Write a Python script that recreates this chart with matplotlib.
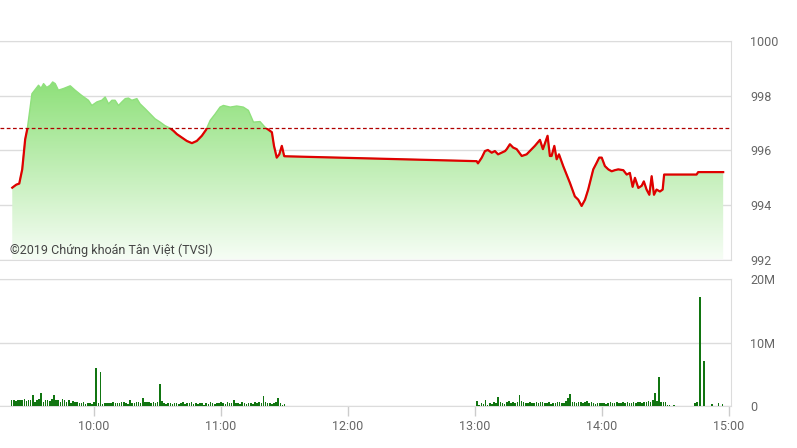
import matplotlib
matplotlib.use('Agg')
import matplotlib.pyplot as plt
import numpy as np
from matplotlib.patches import Rectangle
from matplotlib.colors import LinearSegmentedColormap

plt.rcParams['font.family'] = ['Roboto', 'DejaVu Sans']

# time = minutes after 09:00
am_t = [21.3, 23.2, 24.6, 26.0, 27.4, 28.4, 29.8, 30.6, 33.7, 34.9,
        36.1, 37.6, 39.2, 40.4, 41.6, 43.1, 45.5, 48.7, 51.0, 54.2,
        57.3, 58.9, 61.3, 63.6, 65.2, 66.8, 68.4, 69.9, 71.5, 73.1,
        74.7, 76.2, 77.8, 80.2, 81.7, 84.1, 86.5, 88.8, 91.2, 93.5,
        95.9, 97.5, 99.1, 101.4, 103.8, 106.2, 108.5, 110.9, 112.9, 114.8,
        117.2, 119.5, 121.1, 124.3, 127.4, 130.5, 132.9, 135.3, 138.4, 140.8,
        142.4, 144.0, 145.0, 146.3, 147.5, 148.7, 149.8, 150.0]
am_p = [994.63, 994.74, 994.78, 995.3, 996.4, 996.78, 997.6, 998.07, 998.38, 998.27,
        998.44, 998.3, 998.38, 998.5, 998.44, 998.2, 998.26, 998.36, 998.2, 998.0,
        997.83, 997.64, 997.77, 997.83, 997.95, 997.7, 997.83, 997.83, 997.64, 997.77,
        997.89, 997.91, 997.83, 997.89, 997.7, 997.52, 997.33, 997.15, 997.03, 996.9,
        996.81, 996.71, 996.59, 996.47, 996.34, 996.26, 996.34, 996.53, 996.75, 997.09,
        997.33, 997.58, 997.64, 997.58, 997.62, 997.58, 997.46, 997.03, 997.05, 996.84,
        996.75, 996.66, 996.16, 995.73, 995.85, 996.16, 995.79, 995.78]
pm_t = [240.0, 240.8, 241.4, 243.2, 244.7, 246.1, 247.9, 249.4, 250.9, 252.6,
        254.2, 255.0, 256.5, 258.0, 259.7, 262.1, 264.4, 266.8, 268.3, 270.7,
        272.1, 274.3, 275.4, 276.2, 277.5, 278.6, 279.7, 281.7, 284.9, 287.2,
        288.8, 290.4, 292.0, 293.5, 295.9, 297.5, 298.7, 299.9, 301.4, 303.0,
        304.6, 306.1, 307.7, 310.1, 311.7, 313.2, 314.5, 315.6, 317.2, 318.8,
        319.8, 321.1, 322.4, 323.5, 324.6, 325.8, 327.4, 328.7, 329.4, 344.7,
        345.5, 357.3]
pm_p = [995.6, 995.6, 995.52, 995.73, 995.97, 996.01, 995.91, 995.97, 995.85, 995.91,
        995.97, 996.04, 996.22, 996.1, 996.04, 995.79, 995.85, 996.04, 996.16, 996.38,
        996.04, 996.53, 995.79, 995.79, 996.16, 995.67, 995.85, 995.42, 994.8, 994.31,
        994.19, 993.96, 994.19, 994.56, 995.3, 995.54, 995.73, 995.73, 995.42, 995.3,
        995.23, 995.27, 995.3, 995.27, 995.11, 995.17, 994.66, 994.99, 994.62, 994.7,
        994.86, 994.56, 994.37, 995.05, 994.37, 994.56, 994.49, 994.56, 995.11, 995.11,
        995.2, 995.2]
ref_price = 996.8

# volume in millions, one bar per minute
vol_am_start = 21
vol_am = [0.9, 1.0, 0.8, 0.9, 1.0, 0.9, 1.1, 0.8, 0.9, 1.0,
          1.8, 0.7, 0.9, 1.1, 2.0, 0.6, 0.9, 1.0, 0.8, 1.1,
          1.8, 0.9, 1.0, 0.7, 1.1, 0.9, 0.6, 1.0, 0.5, 0.8,
          0.7, 0.6, 0.5, 0.4, 0.6, 0.3, 0.5, 0.4, 0.3, 0.6,
          6.0, 0.4, 5.4, 0.3, 0.5, 0.4, 0.5, 0.4, 0.6, 0.5,
          0.5, 0.4, 0.6, 0.7, 0.5, 0.3, 0.9, 0.4, 0.5, 0.6,
          0.6, 0.5, 1.3, 0.6, 0.7, 0.6, 0.5, 0.6, 0.4, 0.7,
          3.5, 0.8, 0.4, 0.3, 0.4, 0.5, 0.3, 0.4, 0.5, 0.3,
          0.4, 0.6, 0.3, 0.5, 0.4, 0.7, 0.3, 0.4, 0.3, 0.5,
          0.4, 0.2, 0.5, 0.3, 0.6, 0.4, 0.3, 0.5, 0.4, 0.6,
          0.5, 0.3, 0.7, 0.4, 0.5, 0.9, 0.4, 0.5, 0.3, 0.6,
          0.4, 0.3, 0.5, 0.4, 0.3, 0.6, 0.4, 0.7, 0.5, 1.6,
          0.6, 0.4, 0.5, 0.3, 0.4, 0.6, 1.2, 0.4, 0.2, 0.3]
vol_pm_start = 240
vol_pm = [0.0, 0.8, 0.2, 0.5, 0.3, 1.0, 0.2, 0.4, 0.3, 0.6,
          0.5, 1.4, 0.6, 0.4, 0.3, 0.7, 0.8, 0.5, 0.6, 0.4,
          0.7, 1.7, 0.8, 0.6, 0.5, 0.4, 0.6, 0.5, 0.4, 0.6,
          0.5, 0.6, 0.7, 0.4, 0.5, 0.6, 0.3, 0.5, 0.4, 0.7,
          0.6, 0.5, 0.4, 0.8, 1.2, 1.9, 0.7, 0.6, 0.5, 0.6,
          0.7, 0.5, 0.6, 0.8, 0.4, 0.6, 0.5, 0.3, 0.4, 0.5,
          0.4, 0.5, 0.3, 0.4, 0.6, 0.5, 0.4, 0.6, 0.5, 0.4,
          0.6, 0.5, 0.7, 0.4, 0.5, 0.6, 0.5, 0.7, 0.6, 0.5,
          0.7, 0.6, 0.8, 0.7, 0.9, 2.0, 0.8, 4.5, 0.6, 0.7,
          0.6, 0.1, 0.1, 0.05, 0.1]
vol_late_t = [337, 340, 344, 345, 346.4, 348.3, 352, 355, 357]
vol_late = [0.05, 0.05, 0.5, 0.6, 17.2, 7.1, 0.3, 0.4, 0.3]

hour_ticks = [60, 120, 180, 240, 300, 360]
hour_labels = ['10:00', '11:00', '12:00', '13:00', '14:00', '15:00']

W, H = 797, 448
fig = plt.figure(figsize=(W / 100, H / 100), dpi=100)
ax = fig.add_axes([0, 1 - 259.5 / H, 731 / W, (259.5 - 41) / H])
axv = fig.add_axes([0, 1 - 406 / H, 731 / W, (406 - 279) / H])

xmin, xmax = 15.5, 361
grid_c = '#dcdcdc'
lab_c = '#666666'

t = np.array(am_t + pm_t)
p = np.array(am_p + pm_p)

# gradient fill under the price line
cmap = LinearSegmentedColormap.from_list('g', ['#f6fdf5', '#86de70'])
grad = np.linspace(0, 1, 256).reshape(-1, 1)
fill = ax.fill_between(t, p, 992, color='none', lw=0)
img = ax.imshow(grad, cmap=cmap, aspect='auto', origin='lower',
                extent=[xmin, xmax, 992, 999.0], zorder=1)
img.set_clip_path(fill.get_paths()[0], transform=ax.transData)

ax.plot(t, p, color='#8fe07c', lw=1.0, zorder=2)
red, = ax.plot(t, p, color='#e00000', lw=1.6, zorder=3)
red.set_clip_path(Rectangle((xmin, 990), xmax - xmin, ref_price - 990,
                            transform=ax.transData))
ax.axhline(ref_price, color='#b00000', lw=0.9, dashes=(3, 2), zorder=4)

ax.set_xlim(xmin, xmax)
ax.set_ylim(992, 1000)
ax.set_yticks([992, 994, 996, 998, 1000])
ax.yaxis.tick_right()
ax.tick_params(axis='y', length=0, pad=14, labelsize=9, labelcolor=lab_c)
ax.set_xticks([])
ax.grid(axis='y', color=grid_c, lw=1)
ax.set_axisbelow(True)
ax.spines['left'].set_visible(False)
for s in ['top', 'right', 'bottom']:
    ax.spines[s].set_color(grid_c)

fig.text(10 / W, 1 - 250 / H, '©2019 Chứng khoán Tân Việt (TVSI)',
         fontsize=9, color='#444444', va='center', ha='left')

# volume bars
vt = (list(np.arange(len(vol_am)) + vol_am_start) +
      list(np.arange(len(vol_pm)) + vol_pm_start) + vol_late_t)
vv = np.array(vol_am + vol_pm + vol_late) * 1e6
axv.bar(vt, vv, width=0.75, color='#117511', zorder=3)
axv.set_xlim(xmin, xmax)
axv.set_ylim(0, 20e6)
axv.set_yticks([0, 10e6, 20e6])
axv.set_yticklabels(['0', '10M', '20M'])
axv.yaxis.tick_right()
axv.tick_params(axis='y', length=0, pad=14, labelsize=9, labelcolor=lab_c)
axv.set_xticks(hour_ticks)
axv.set_xticklabels(hour_labels)
axv.tick_params(axis='x', length=7, width=1, color='#cccccc', pad=3,
                labelsize=9, labelcolor=lab_c)
axv.grid(axis='y', color=grid_c, lw=1)
axv.spines['left'].set_visible(False)
for s in ['top', 'right', 'bottom']:
    axv.spines[s].set_color(grid_c)

fig.savefig('out.png', dpi=100)
